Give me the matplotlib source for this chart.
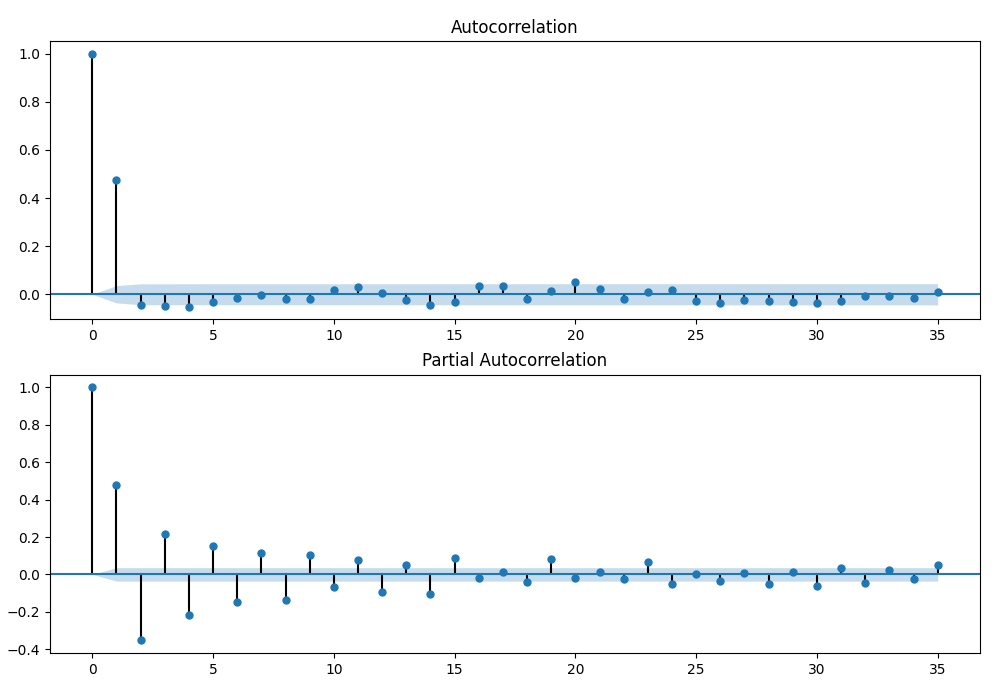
import numpy as np
import matplotlib
matplotlib.use("Agg")
import matplotlib.pyplot as plt

lags = np.arange(0, 36)

acf_values = [1.0, 0.475, -0.045, -0.050, -0.051, -0.034, -0.014, -0.004, -0.018, -0.018,
              0.017, 0.030, 0.004, -0.025, -0.045, -0.033, 0.034, 0.033, -0.018, 0.012,
              0.052, 0.023, -0.018, 0.008, 0.017, -0.026, -0.038, -0.022, -0.030, -0.034,
              -0.035, -0.026, -0.008, -0.008, -0.014, 0.008]

pacf_values = [1.0, 0.477, -0.353, 0.216, -0.216, 0.152, -0.147, 0.115, -0.135, 0.105,
               -0.069, 0.078, -0.092, 0.051, -0.103, 0.089, -0.021, 0.014, -0.039, 0.083,
               -0.021, 0.014, -0.027, 0.064, -0.050, 0.004, -0.034, 0.009, -0.050, 0.014,
               -0.062, 0.035, -0.044, 0.023, -0.027, 0.048]

# confidence band half-widths per lag
acf_band = [0.0, 0.036, 0.0434, 0.0435, 0.0436, 0.0437, 0.0437, 0.0437, 0.0437, 0.0437,
            0.0437, 0.0437, 0.0437, 0.0437, 0.0437, 0.0438, 0.0438, 0.0438, 0.0438, 0.0438,
            0.0438, 0.0439, 0.0439, 0.0439, 0.0439, 0.0439, 0.0439, 0.0440, 0.0440, 0.0440,
            0.0440, 0.0440, 0.0441, 0.0441, 0.0441, 0.0441]
pacf_band = [0.0] + [0.036] * 35

fig, axes = plt.subplots(2, 1, figsize=(10, 6.9), dpi=100)
fig.subplots_adjust(left=0.05, right=0.98, top=0.9406, bottom=0.0536, hspace=0.2)

for ax, vals, band, title in [
    (axes[0], acf_values, acf_band, "Autocorrelation"),
    (axes[1], pacf_values, pacf_band, "Partial Autocorrelation"),
]:
    vals = np.asarray(vals)
    band = np.asarray(band)
    ax.vlines(lags, [0], vals, colors="k", linewidth=1.5)
    ax.axhline(0, color="C0", linewidth=1.5)
    ax.margins(0.05)
    ax.plot(lags, vals, marker="o", markersize=5, linestyle="None", color="C0")
    ax.set_title(title, fontsize=12)
    ax.fill_between(lags, -band, band, alpha=0.25, color="C0", linewidth=0)

fig.savefig("out.png", dpi=100)
